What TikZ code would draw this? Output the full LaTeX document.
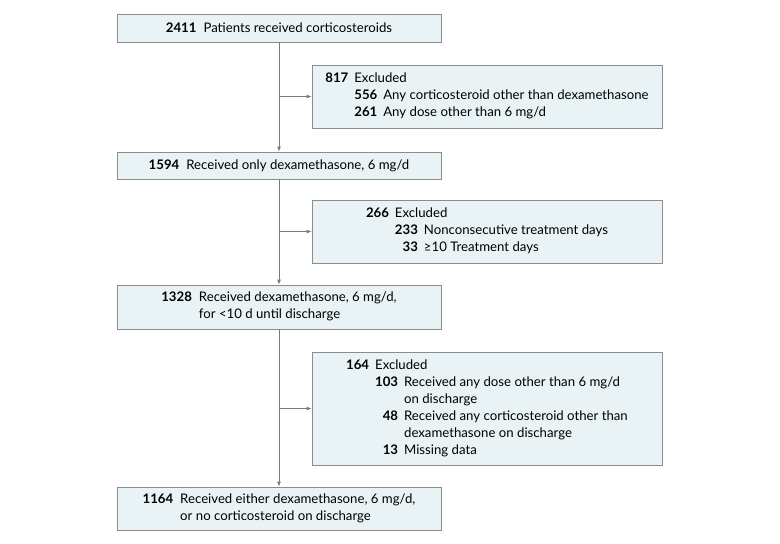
\documentclass[tikz,border=0pt]{standalone}
\usepackage{fontspec}
\setmainfont{Lato}
\usepackage{array}
\usetikzlibrary{arrows.meta, positioning}

\definecolor{boxfill}{HTML}{E9F3F5}
\definecolor{boxline}{HTML}{8C8C8C}
\definecolor{flowline}{HTML}{7A7A7A}

\begin{document}
\begin{tikzpicture}[x=1pt, y=-1pt,
    mainbox/.style={draw=boxline, fill=boxfill, line width=0.8pt, minimum width=324pt,
        inner sep=0pt, font=\fontsize{13.2}{17}\selectfont},
    exclbox/.style={draw=boxline, fill=boxfill, line width=0.8pt, minimum width=350pt,
        inner sep=0pt, font=\fontsize{13.2}{17}\selectfont},
    flow/.style={draw=flowline, line width=0.8pt, -{Latex[length=5pt,width=4pt]}}]

    % Canvas
    \useasboundingbox (0,0) rectangle (780,544);

    % Main flow boxes
    \node[mainbox, minimum height=28pt] (received) at (279,28)
        {\textbf{2411}\hspace{7pt}Patients received corticosteroids};
    \node[mainbox, minimum height=27pt] (onlydexa) at (279,165.5)
        {\textbf{1594}\hspace{7pt}Received only dexamethasone, 6 mg/d};
    \node[mainbox, minimum height=44pt] (shortdexa) at (279,307)
        {\textbf{1328}\hspace{7pt}\begin{tabular}[t]{@{}l@{}}Received dexamethasone, 6 mg/d,\\ for <10 d until discharge\end{tabular}};
    \node[mainbox, minimum height=43pt] (final) at (279,508.5)
        {\textbf{1164}\hspace{7pt}\begin{tabular}[t]{@{}l@{}}Received either dexamethasone, 6 mg/d,\\ or no corticosteroid on discharge\end{tabular}};

    % Exclusion boxes
    \node[exclbox, minimum height=63pt] (exclA) at (487,96.5)
        {\begin{tabular}{@{}r@{\hspace{6pt}}r@{\hspace{6pt}}l@{}}
            \textbf{817} & \multicolumn{2}{@{}l@{}}{Excluded}\\
            & \textbf{556} & Any corticosteroid other than dexamethasone\\
            & \textbf{261} & Any dose other than 6 mg/d
        \end{tabular}};
    \node[exclbox, minimum height=63pt] (exclB) at (487,231.5)
        {\begin{tabular}{@{}r@{\hspace{6pt}}r@{\hspace{6pt}}l@{}}
            \textbf{266} & \multicolumn{2}{@{}l@{}}{Excluded}\\
            & \textbf{233} & Nonconsecutive treatment days\\
            & \textbf{33} & ≥10 Treatment days
        \end{tabular}};
    \node[exclbox, minimum height=113pt] (exclC) at (487,408.5)
        {\begin{tabular}{@{}r@{\hspace{6pt}}r@{\hspace{6pt}}l@{}}
            \textbf{164} & \multicolumn{2}{@{}l@{}}{Excluded}\\
            & \textbf{103} & Received any dose other than 6 mg/d\\
            & & on discharge\\
            & \textbf{48} & Received any corticosteroid other than\\
            & & dexamethasone on discharge\\
            & \textbf{13} & Missing data
        \end{tabular}};

    % Vertical flow
    \draw[flow] (received) -- (onlydexa);
    \draw[flow] (onlydexa) -- (shortdexa);
    \draw[flow] (shortdexa) -- (final);

    % Side arrows to exclusions
    \draw[flow] (received.south |- exclA.west) -- (exclA.west);
    \draw[flow] (onlydexa.south |- exclB.west) -- (exclB.west);
    \draw[flow] (shortdexa.south |- exclC.west) -- (exclC.west);
\end{tikzpicture}
\end{document}
